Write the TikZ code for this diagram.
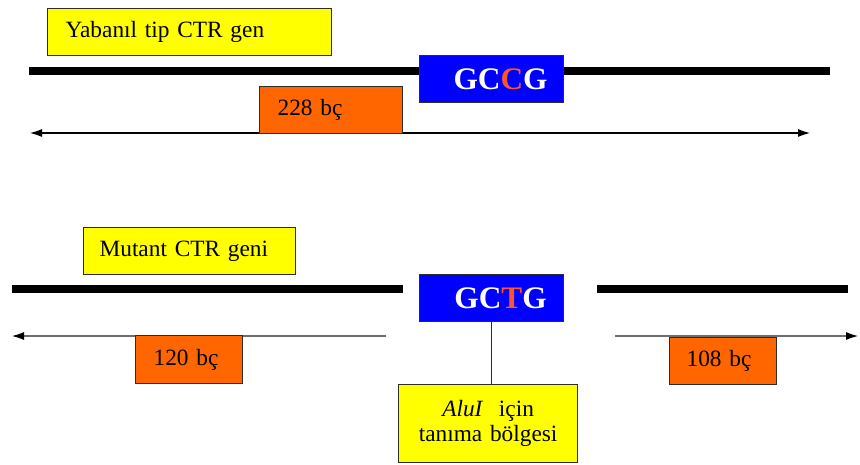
\documentclass[tikz,border=0pt]{standalone}
\usepackage{fontspec}
\setmainfont{Liberation Serif}
\usetikzlibrary{arrows.meta}
\newcommand\pxu{0.75pt}
\definecolor{boxyellow}{RGB}{255,255,0}
\definecolor{boxorange}{RGB}{255,102,0}
\definecolor{boxblue}{RGB}{0,0,255}
\definecolor{letterred}{RGB}{255,85,40}
\definecolor{edgegray}{RGB}{45,45,45}
\definecolor{spangray}{RGB}{110,110,110}
\begin{document}
\begin{tikzpicture}[x=0.75pt,y=-0.75pt,
  box/.style={draw=edgegray, line width=0.9pt, rectangle, inner ysep=0pt,
    anchor=north west, align=left, font=\fontsize{17.5}{17.5}\selectfont},
  ybox/.style={box, fill=boxyellow},
  obox/.style={box, fill=boxorange},
  bbox/.style={box, fill=boxblue, text=white, inner xsep=0pt, text width=144*\pxu,
    align=center, font=\fontsize{23.5}{24}\selectfont\bfseries},
  dna/.style={line width=6pt, black},
  span/.style={line width=0.8pt, {Latex[length=9pt,width=6pt]}-{Latex[length=9pt,width=6pt]}},
  halfspan/.style={line width=0.8pt, spangray, -{Latex[length=9pt,width=6pt,black]}},
  connector/.style={line width=0.9pt, edgegray}
]
\path[use as bounding box, fill=white] (0,0) rectangle (860,464);

% genomic lines
\coordinate (t1) at (29,71);  \coordinate (t2) at (830,71);
\coordinate (b1) at (12,289); \coordinate (b2) at (403,289);
\coordinate (b3) at (597,289); \coordinate (b4) at (848,289);
\draw[dna] (t1) -- (t2);
\draw[dna] (b1) -- (b2);
\draw[dna] (b3) -- (b4);

% span arrows
\coordinate (a1) at (30,133);  \coordinate (a2) at (810,133);
\coordinate (c1) at (386,336); \coordinate (c2) at (12,336);
\coordinate (d1) at (615,336); \coordinate (d2) at (858,336);
\draw[span] (a1) -- (a2);
\draw[halfspan] (c1) -- (c2);
\draw[halfspan] (d1) -- (d2);

% top part
\node[ybox, minimum height=47*\pxu, inner xsep=18*\pxu, text width=248*\pxu] (wt) at (47,8) {Yabanıl tip CTR gen};
\node[bbox, minimum height=47*\pxu] (gccg) at (419,55) {\hspace*{13.5pt}GC{\color{letterred}C}G};
\node[obox, minimum height=47*\pxu, inner xsep=18*\pxu, text width=107*\pxu] (s228) at (259,86) {228 bç};

% bottom part
\node[ybox, minimum height=47*\pxu, inner xsep=16*\pxu, text width=180*\pxu] (mut) at (83,227) {Mutant CTR geni};
\node[bbox, minimum height=47*\pxu] (gctg) at (419,274) {\hspace*{13.5pt}GC{\color{letterred}T}G};
\node[obox, minimum height=48*\pxu, inner xsep=18*\pxu, text width=71*\pxu] (s120) at (135,335) {120 bç};
\node[obox, minimum height=47*\pxu, inner xsep=17*\pxu, text width=73*\pxu] (s108) at (669,337) {108 bç};
\node[ybox, minimum height=78*\pxu, inner xsep=5*\pxu, text width=169*\pxu, align=center] (alu) at (398,384) {\textit{AluI}~~için\\[1pt]tanıma bölgesi};

\draw[connector] (gctg.south) -- (gctg.south |- alu.north);
\end{tikzpicture}
\end{document}
